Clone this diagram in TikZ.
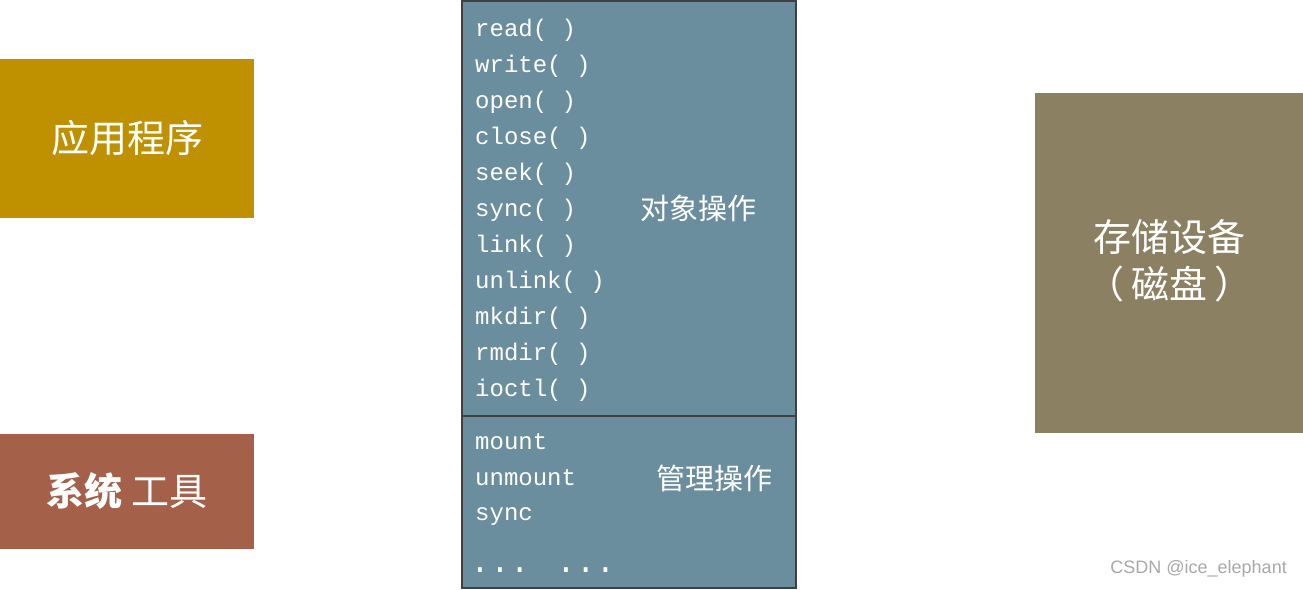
\documentclass[tikz,border=0pt]{standalone}
\usepackage{fontspec}
\setmainfont{Liberation Serif}
\newfontfamily\cjk{Noto Sans CJK SC}
\newfontfamily\mono{Liberation Mono}
\newfontfamily\wm{Liberation Sans}
\definecolor{appgold}{HTML}{BF9000}
\definecolor{toolred}{HTML}{A5604A}
\definecolor{vfsblue}{HTML}{6B8E9F}
\definecolor{diskbrown}{HTML}{8B8062}
\definecolor{edgegray}{HTML}{404040}
\definecolor{wmgray}{HTML}{A8A8A8}
\tikzset{
  codeline/.style={anchor=base west,inner sep=0,text=white,font=\mono\fontsize{24}{28}\selectfont},
  cjklabel/.style={inner sep=0,text=white,align=center},
}
\begin{document}
\begin{tikzpicture}[x=1pt,y=-1pt]
\useasboundingbox (0,0) rectangle (1303,589);
% boxes
\fill[appgold] (0,59) rectangle (254,218);
\fill[toolred] (0,434) rectangle (254,549);
\fill[diskbrown] (1035,93) rectangle (1303,433);
\draw[edgegray,line width=2pt,fill=vfsblue] (462,1) rectangle (796,588);
\draw[edgegray,line width=2pt] (462,416) -- (796,416);
% labels in side boxes
\node[cjklabel,font=\cjk\fontsize{38}{44}\selectfont] (app) at (127,138) {应用程序};
\node[cjklabel,font=\cjk\fontsize{38}{44}\selectfont] (tool) at (127,491) {{\bfseries 系统} 工具};
\node[cjklabel,font=\cjk\fontsize{38}{47}\selectfont] (disk) at (1169,261) {存储设备\\（\hspace{7pt}磁盘\hspace{7pt}）};
% object operations
\foreach \t [count=\i from 0] in {read( ),write( ),open( ),close( ),seek( ),sync( ),link( ),unlink( ),mkdir( ),rmdir( ),ioctl( )}
  \node[codeline] (op\i) at (475,{36+36*\i}) {\t};
\node[cjklabel,font=\cjk\fontsize{29}{34}\selectfont] (objops) at (698,208) {对象操作};
% management operations
\node[codeline] (mount) at (475,449) {mount};
\node[codeline] (unmount) at (475,485) {unmount};
\node[codeline] (msync) at (475,520) {sync};
\node[anchor=base west,inner sep=0,text=white,font=\mono\fontsize{33}{36}\selectfont] (dots) at (470,572) {... ...};
\node[cjklabel,font=\cjk\fontsize{29}{34}\selectfont] (mgmtops) at (714,478) {管理操作};
% watermark
\node[anchor=east,inner sep=0,text=wmgray,font=\wm\fontsize{18}{20}\selectfont] (wmark) at (1287,569) {CSDN @ice\_elephant};
\end{tikzpicture}
\end{document}
